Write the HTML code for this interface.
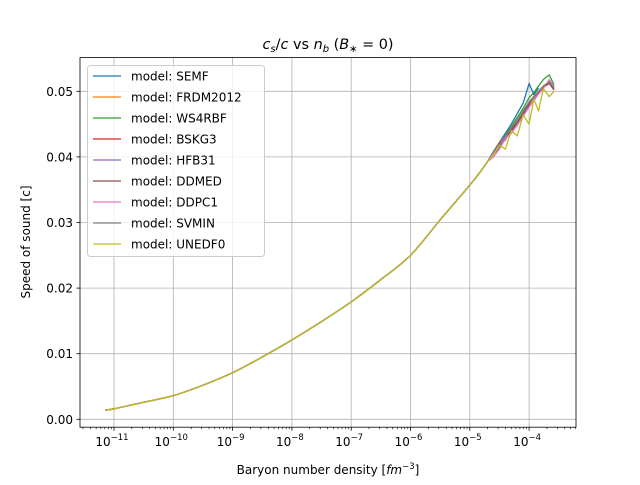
<!DOCTYPE html>
<html><head><meta charset="utf-8"><style>
body{margin:0;background:#fff}
svg{font-family:"DejaVu Sans","Liberation Sans",sans-serif}
</style></head><body>
<svg width="640" height="480" viewBox="0 0 640 480">
<g id="grid"></g>
<g id="series"></g>
<rect x="80" y="57.6" width="496" height="369.6" fill="none" stroke="#000" stroke-width="0.8"/>
<g id="ticks"></g>
<text x="328" y="49" text-anchor="middle" font-size="14.4"><tspan font-style="italic">c</tspan><tspan font-style="italic" font-size="10" dy="3">s</tspan><tspan dy="-3">/</tspan><tspan font-style="italic">c</tspan> vs <tspan font-style="italic">n</tspan><tspan font-style="italic" font-size="10" dy="3">b</tspan><tspan dy="-3"> (</tspan><tspan font-style="italic">B</tspan><tspan font-size="10" dy="3">∗</tspan><tspan dy="-3"> = 0)</tspan></text>
<text x="328" y="474" text-anchor="middle" font-size="12">Baryon number density [<tspan font-style="italic">fm</tspan><tspan font-size="8.5" dy="-5">−3</tspan><tspan dy="5">]</tspan></text>
<text transform="translate(30,242) rotate(-90)" text-anchor="middle" font-size="12">Speed of sound [c]</text>
<g id="legend"></g>
</svg>
<script>
const NS="http://www.w3.org/2000/svg";
const models=["SEMF","FRDM2012","WS4RBF","BSKG3","HFB31","DDMED","DDPC1","SVMIN","UNEDF0"];
const colors=["#1f77b4","#ff7f0e","#2ca02c","#d62728","#9467bd","#8c564b","#e377c2","#7f7f7f","#bcbd22"];
const baseLog=[-11.15,-11,-10.5,-10,-9.5,-9,-8.5,-8,-7.5,-7,-6.5,-6,-5.5,-5,-4.8,-4.7];
const baseVal=[0.0014,0.0016,0.0026,0.0036,0.0052,0.0071,0.0095,0.0121,0.0149,0.0179,0.0213,0.0250,0.0304,0.0357,0.0380,0.0393];
const tailLog=[-4.6,-4.5,-4.4,-4.3,-4.2,-4.1,-4.0,-3.92,-3.84,-3.76,-3.66,-3.58];
const tails=[
[0.0408,0.0422,0.0436,0.0450,0.0466,0.0482,0.0512,0.0495,0.0505],
[0.0406,0.0416,0.0428,0.0440,0.0454,0.0468,0.0482,0.0492,0.0500,0.0508,0.0515,0.0505],
[0.0407,0.0420,0.0433,0.0446,0.0460,0.0474,0.0490,0.0498,0.0508,0.0518,0.0525,0.0510],
[0.0406,0.0418,0.0426,0.0442,0.0452,0.0462,0.0480,0.0492,0.0498,0.0506,0.0512,0.0502],
[0.0404,0.0414,0.0430,0.0436,0.0452,0.0466,0.0476,0.0486,0.0496,0.0506,0.0516,0.0505],
[0.0408,0.0422,0.0432,0.0440,0.0452,0.0466,0.0482,0.0490,0.0500,0.0506,0.0512,0.0503],
[0.0400,0.0412,0.0428,0.0436,0.0448,0.0462,0.0476,0.0488,0.0496,0.0504,0.0518,0.0508],
[0.0407,0.0420,0.0432,0.0444,0.0456,0.0470,0.0484,0.0492,0.0500,0.0508,0.0514,0.0506],
[0.0404,0.0418,0.0412,0.0440,0.0432,0.0464,0.0450,0.0488,0.0470,0.0504,0.0492,0.0500]];
const xTicks=[-11,-10,-9,-8,-7,-6,-5,-4];
const yTicks=[0,0.01,0.02,0.03,0.04,0.05];
const yLabels=["0.00","0.01","0.02","0.03","0.04","0.05"];
const X=l=>114+(l+11)*59.3;
const Y=v=>419.3-v*6560;
const mk=(t,a,p)=>{const e=document.createElementNS(NS,t);for(const k in a)e.setAttribute(k,a[k]);p.appendChild(e);return e;};
const grid=document.getElementById('grid'),ticks=document.getElementById('ticks');
xTicks.forEach(l=>{
 const g=mk('line',{x1:X(l),x2:X(l),y1:57.6,y2:427.2,stroke:'#b0b0b0','stroke-width':0.8},grid);
 
 
 mk('line',{x1:X(l),x2:X(l),y1:427.2,y2:430.7,stroke:'#000','stroke-width':0.8},ticks);
 const t=mk('text',{x:X(l)-2,y:446,'text-anchor':'middle','font-size':12},ticks);
 
 
 t.innerHTML='10<tspan font-size="8.5" dy="-6">−'+(-l)+'</tspan>';
});
for(let d=-12;d<=-4;d++)for(let m=2;m<=9;m++){const l=d+Math.log10(m),x=X(l);if(x>80&&x<576)mk('line',{x1:x,x2:x,y1:427.2,y2:429.2,stroke:'#000','stroke-width':0.6},ticks);}
yTicks.forEach((v,i)=>{
 const g=mk('line',{x1:80,x2:576,y1:Y(v),y2:Y(v),stroke:'#b0b0b0','stroke-width':0.8},grid);
 
 
 mk('line',{x1:76.5,x2:80,y1:Y(v),y2:Y(v),stroke:'#000','stroke-width':0.8},ticks);
 const t=mk('text',{x:73,y:Y(v)+4.5,'text-anchor':'end','font-size':12},ticks);
 
 
 t.textContent=yLabels[i];
});
function curve(pts){
 let d='M'+pts[0][0]+','+pts[0][1];
 for(let i=0;i<pts.length-1;i++){
  const p0=pts[Math.max(0,i-1)],p1=pts[i],p2=pts[i+1],p3=pts[Math.min(pts.length-1,i+2)];
  d+=' C'+(p1[0]+(p2[0]-p0[0])/6)+','+(p1[1]+(p2[1]-p0[1])/6)+' '+(p2[0]-(p3[0]-p1[0])/6)+','+(p2[1]-(p3[1]-p1[1])/6)+' '+p2[0]+','+p2[1];
 }
 return d;
}
const series=document.getElementById('series'),legend=document.getElementById('legend');
const lb=mk('rect',{x:87.5,y:65.5,width:177,height:191,rx:3,fill:'#fff','fill-opacity':0.8,stroke:'#ccc'},legend);


models.forEach((m,i)=>{
 const pts=baseLog.map((l,j)=>[X(l),Y(baseVal[j])]);
 let d=curve(pts);
 tails[i].forEach((v,j)=>{d+=' L'+X(tailLog[j])+','+Y(v);});
 const p=mk('path',{d:d,fill:'none',stroke:colors[i],'stroke-width':1.3,'stroke-linejoin':'round'},series);
 
 
 const y=76+i*21;
 const ll=mk('line',{x1:93,x2:121,y1:y,y2:y,stroke:colors[i],'stroke-width':1.3},legend);
 
 
 const t=mk('text',{x:131,y:y+4.5,'font-size':12},legend);
 
 
 t.textContent='model: '+m;
});
</script>
</body></html>
